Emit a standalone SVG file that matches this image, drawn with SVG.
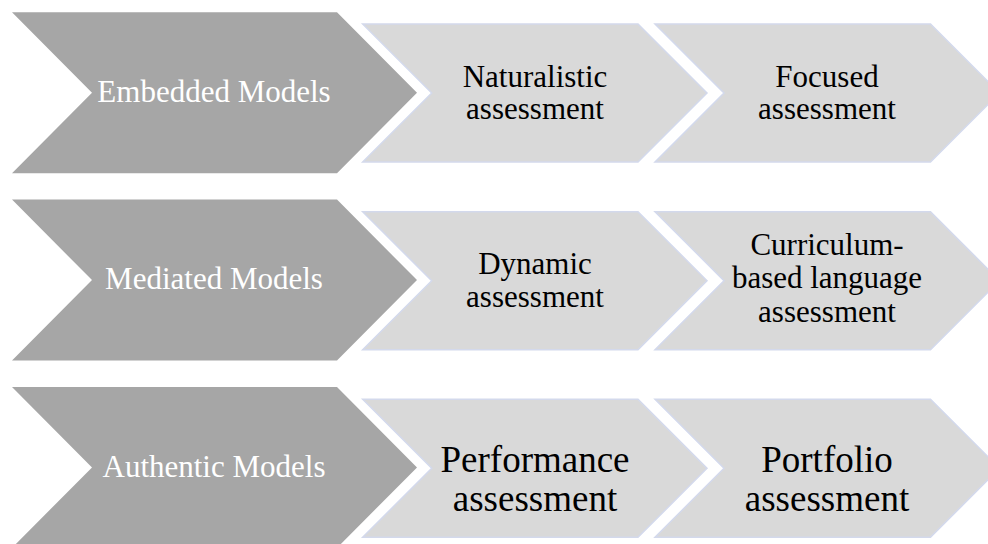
<svg xmlns="http://www.w3.org/2000/svg" width="988" height="544" viewBox="0 0 988 544">
<style>
.dark{fill:#a6a6a6;}
.light{fill:#d9d9d9;stroke:#d3d9ec;stroke-width:1.5;}
.dt{font-family:"Liberation Serif","Times New Roman",serif;font-size:31px;fill:#ffffff;text-anchor:middle;}
.lt{font-family:"Liberation Serif","Times New Roman",serif;font-size:31px;fill:#000000;text-anchor:middle;}
.lt3{font-family:"Liberation Serif","Times New Roman",serif;font-size:37px;fill:#000000;text-anchor:middle;}
</style>
<rect width="988" height="544" fill="#ffffff"/>
<!-- Row 1 -->
<g id="embedded-models">
<polygon class="dark" points="12,12.3 337,12.3 417,92.8 337,173.3 12,173.3 92,92.8"/>
<text class="dt" x="214" y="102">Embedded Models</text>
</g>
<g id="naturalistic-assessment">
<polygon class="light" points="362.7,24 638,24 707,93 638,162 362.7,162 431.7,93"/>
<text class="lt" x="535" y="87">Naturalistic</text>
<text class="lt" x="535" y="119">assessment</text>
</g>
<g id="focused-assessment">
<polygon class="light" points="655,24 930.5,24 999.5,93 930.5,162 655,162 724,93"/>
<text class="lt" x="827" y="87">Focused</text>
<text class="lt" x="827" y="119">assessment</text>
</g>
<!-- Row 2 -->
<g id="mediated-models">
<polygon class="dark" points="12,199.6 337,199.6 417,280.1 337,360.6 12,360.6 92,280.1"/>
<text class="dt" x="214" y="289">Mediated Models</text>
</g>
<g id="dynamic-assessment">
<polygon class="light" points="362.7,211.7 638,211.7 707,280.7 638,349.7 362.7,349.7 431.7,280.7"/>
<text class="lt" x="535" y="274.3">Dynamic</text>
<text class="lt" x="535" y="306.7">assessment</text>
</g>
<g id="curriculum-based-language-assessment">
<polygon class="light" points="655,211.7 930.5,211.7 999.5,280.7 930.5,349.7 655,349.7 724,280.7"/>
<text class="lt" x="827" y="254.5">Curriculum-</text>
<text class="lt" x="827" y="288">based language</text>
<text class="lt" x="827" y="321.5">assessment</text>
</g>
<!-- Row 3 -->
<g id="authentic-models">
<polygon class="dark" points="12,386.9 337,386.9 417,467.4 337,547.9 12,547.9 92,467.4"/>
<text class="dt" x="214" y="476.5">Authentic Models</text>
</g>
<g id="performance-assessment">
<polygon class="light" points="362.7,399.3 638,399.3 707,468.3 638,537.3 362.7,537.3 431.7,468.3"/>
<text class="lt3" x="535" y="472">Performance</text>
<text class="lt3" x="535" y="511">assessment</text>
</g>
<g id="portfolio-assessment">
<polygon class="light" points="655,399.3 930.5,399.3 999.5,468.3 930.5,537.3 655,537.3 724,468.3"/>
<text class="lt3" x="827" y="472">Portfolio</text>
<text class="lt3" x="827" y="511">assessment</text>
</g>
</svg>
